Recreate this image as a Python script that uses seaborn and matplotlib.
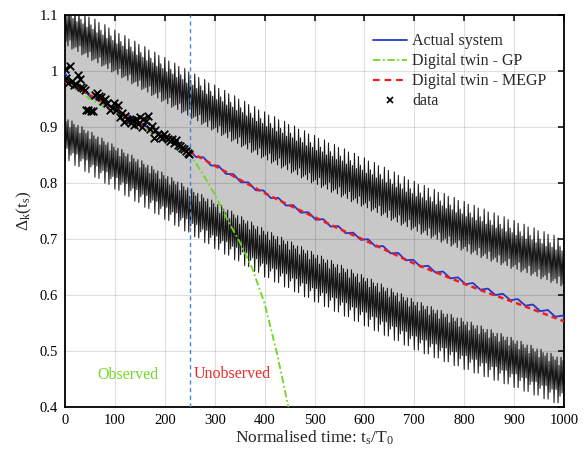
import numpy as np
import pandas as pd
import matplotlib
matplotlib.use("Agg")
import matplotlib.pyplot as plt
import seaborn as sns
from matplotlib.lines import Line2D

# ---------------- data ----------------
megp_t = [0, 50, 100, 150, 200, 250, 300, 350, 400, 450, 500,
          550, 600, 650, 700, 750, 800, 850, 900, 950, 1000]
megp_v = [0.982, 0.957, 0.932, 0.906, 0.881, 0.856, 0.831, 0.806, 0.782, 0.760, 0.739,
          0.718, 0.698, 0.677, 0.656, 0.638, 0.620, 0.603, 0.587, 0.570, 0.553]

actual_t = [0.0] + [7.5 + 15 * k for k in range(67)] + [1000.0]
actual_v = [0.996, 0.986, 0.9673, 0.9668, 0.9523, 0.9518, 0.9373, 0.9368, 0.9220, 0.9212,
            0.9064, 0.9058, 0.8913, 0.8908, 0.8763, 0.8758, 0.8613, 0.8608, 0.8463, 0.8458,
            0.8313, 0.8308, 0.8163, 0.8158, 0.8013, 0.8011, 0.7869, 0.7867, 0.7730, 0.7734,
            0.7598, 0.7604, 0.7471, 0.7478, 0.7345, 0.7354, 0.7222, 0.7231, 0.7103, 0.7114,
            0.6986, 0.6996, 0.6865, 0.6874, 0.6743, 0.6752, 0.6620, 0.6629, 0.6506, 0.6523,
            0.6401, 0.6419, 0.6297, 0.6315, 0.6193, 0.6214, 0.6094, 0.6115, 0.5999, 0.6022,
            0.5906, 0.5928, 0.5809, 0.5830, 0.5711, 0.5732, 0.5612, 0.5633, 0.559]

gp_t = [0, 25, 50, 100, 150, 200, 250, 275, 300, 325, 350, 375, 400, 425, 450]
gp_v = [0.990, 0.968, 0.950, 0.926, 0.903, 0.879, 0.852, 0.818, 0.780, 0.735, 0.695,
        0.648, 0.585, 0.495, 0.390]

obs_t = [0, 3, 7, 11, 14, 18, 22, 27, 30, 33, 36, 40, 43, 47, 52, 57, 60, 64, 68, 72,
         77, 81, 85, 90, 94, 98, 102, 106, 110, 114, 118, 121, 125, 128, 132, 135, 139,
         143, 147, 150, 154, 157, 162, 166, 170, 174, 178, 180, 186, 190, 194, 198, 202,
         206, 210, 214, 218, 222, 226, 230, 234, 238, 242, 246, 249]
obs_v = [1.003, 0.987, 0.978, 1.009, 0.982, 0.975, 0.977, 0.993, 0.985, 0.972, 0.970,
         0.966, 0.930, 0.931, 0.929, 0.929, 0.958, 0.960, 0.955, 0.953, 0.946, 0.950,
         0.942, 0.930, 0.934, 0.943, 0.930, 0.939, 0.918, 0.925, 0.909, 0.920, 0.915,
         0.913, 0.907, 0.912, 0.904, 0.915, 0.906, 0.918, 0.900, 0.915, 0.910, 0.920,
         0.897, 0.902, 0.880, 0.895, 0.888, 0.884, 0.880, 0.887, 0.882, 0.878, 0.875,
         0.879, 0.872, 0.877, 0.867, 0.866, 0.862, 0.860, 0.857, 0.853, 0.852]

# uncertainty bands (centre and half-width of the oscillating bound lines)
band_t = [0, 100, 200, 300, 400, 500, 600, 700, 800, 900, 1000]
upper_mid = [1.082, 1.032, 0.981, 0.931, 0.882, 0.839, 0.798, 0.756, 0.720, 0.687, 0.655]
lower_mid = [0.882, 0.830, 0.778, 0.727, 0.677, 0.634, 0.592, 0.549, 0.514, 0.481, 0.446]
band_half = [0.040, 0.041, 0.043, 0.044, 0.045, 0.046, 0.047, 0.047, 0.047, 0.046, 0.045]

x_ticks = [0, 100, 200, 300, 400, 500, 600, 700, 800, 900, 1000]
y_ticks = [0.4, 0.5, 0.6, 0.7, 0.8, 0.9, 1.0, 1.1]
y_tick_labels = ["0.4", "0.5", "0.6", "0.7", "0.8", "0.9", "1", "1.1"]
split_t = 250

# ---------------- styling ----------------
sns.set_theme(style="white")
plt.rcParams["font.family"] = ["Liberation Serif", "DejaVu Serif"]
plt.rcParams["mathtext.fontset"] = "custom"
plt.rcParams["mathtext.rm"] = "Liberation Serif"
plt.rcParams["mathtext.it"] = "Liberation Serif:italic"

fig = plt.figure(figsize=(5.86, 4.57), dpi=100)
ax = fig.add_axes([0.1109, 0.1094, 0.8516, 0.8578])

# oscillating bound lines
zig_t = np.arange(0, 1000.001, 2.0)
amp_pattern = np.array([1.0, 0.7, 0.45, 0.85, 0.95, 0.55, 0.65, 0.9, 0.5, 0.8])
idx = np.arange(len(zig_t))
sgn = np.where(idx % 2 == 0, 1.0, -1.0) * amp_pattern[idx % len(amp_pattern)]
hw = np.interp(zig_t, band_t, band_half)
up_line = np.interp(zig_t, band_t, upper_mid) + sgn * hw
lo_line = np.interp(zig_t, band_t, lower_mid) - sgn * hw

ax.fill_between(zig_t, lo_line, up_line, color="#c8c8c8", lw=0, zorder=1)
ax.plot(zig_t, up_line, color="black", lw=0.75, alpha=0.9, zorder=1.5)
ax.plot(zig_t, lo_line, color="black", lw=0.75, alpha=0.9, zorder=1.5)

# curves
sns.lineplot(x=actual_t, y=actual_v, ax=ax, color="#2436cc", lw=1.3,
             estimator=None, sort=False, zorder=3)
sns.lineplot(x=gp_t, y=gp_v, ax=ax, color="#6fd81e", lw=1.3,
             linestyle=(0, (4, 1.5, 1, 1.5)), estimator=None, sort=False, zorder=3.2)
sns.lineplot(x=megp_t, y=megp_v, ax=ax, color="#ee1c1c", lw=1.8,
             linestyle=(0, (2.2, 1.6)), estimator=None, sort=False, zorder=3.4)
sns.scatterplot(x=obs_t, y=obs_v, ax=ax, marker="x", color="black", s=30,
                linewidth=1.3, zorder=4)

ax.axvline(split_t, color="#3f8ad8", lw=1.0, linestyle=(0, (3, 2.5)), zorder=3.5)

ax.text(127, 0.457, "Observed", color="#77d827", fontsize=11.5, ha="center", va="center")
ax.text(335, 0.459, "Unobserved", color="#ee2a2a", fontsize=11.5, ha="center", va="center")

# axes
ax.set_xlim(0, 1000)
ax.set_ylim(0.4, 1.1)
ax.set_xticks(x_ticks)
ax.set_yticks(y_ticks)
ax.set_yticklabels(y_tick_labels)
ax.tick_params(direction="in", length=4.5, width=1.1, top=True, right=True,
               labelsize=10.5, colors="black", pad=5)
ax.set_axisbelow(False)
ax.grid(True, color="black", alpha=0.13, lw=0.8)
for s in ax.spines.values():
    s.set_color("black")
    s.set_linewidth(1.3)

ax.set_xlabel(r"Normalised time: $\mathregular{t_s/T_0}$", fontsize=12.5, labelpad=1)
ax.set_ylabel(r"$\mathregular{\Delta_k(t_s)}$", fontsize=12.5, labelpad=4)

handles = [
    Line2D([], [], color="#2436cc", lw=1.3),
    Line2D([], [], color="#6fd81e", lw=1.3, linestyle=(0, (4, 1.5, 1, 1.5))),
    Line2D([], [], color="#ee1c1c", lw=1.6, linestyle=(0, (3, 2.2))),
    Line2D([], [], color="black", marker="x", linestyle="none", markersize=4.5, mew=1.2),
]
labels = ["Actual system", "Digital twin - GP", "Digital twin - MEGP", "data"]
ax.legend(handles, labels, loc="upper left", bbox_to_anchor=(0.618, 0.953),
          frameon=False, fontsize=11.5, handlelength=2.1, handletextpad=0.33,
          labelspacing=0.25, borderpad=0, borderaxespad=0)

fig.savefig("out.png", dpi=100)
